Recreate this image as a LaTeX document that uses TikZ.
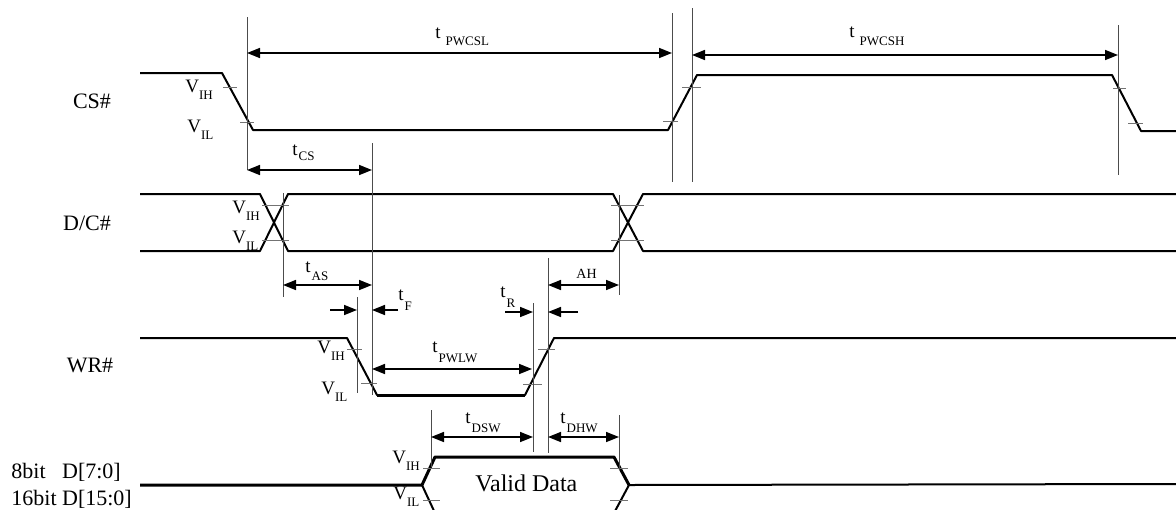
\documentclass[tikz,border=0pt]{standalone}
\usepackage{fontspec}
\setmainfont{Liberation Serif}
\usepackage{tikz}
\usetikzlibrary{arrows.meta}
\tikzstyle{wave} = [draw, line width=1pt, line join=round]
\tikzstyle{bus} = [draw, line width=1.5pt, line join=round]
\tikzstyle{guide} = [draw, line width=0.5pt, color=black!70]
\tikzstyle{tick} = [draw, line width=0.5pt, color=black!55]
\tikzstyle{dim} = [draw, line width=0.8pt,
    {Triangle[length=6.5pt,width=5pt]}-{Triangle[length=6.5pt,width=5pt]}]
\tikzstyle{half} = [draw, line width=0.8pt, -{Triangle[length=6.5pt,width=5pt]}]
\tikzstyle{sig} = [inner sep=0pt, font=\fontsize{11}{13}\selectfont]
\tikzstyle{lab} = [inner sep=0pt, anchor=base west, font=\fontsize{9.5}{10}\selectfont]
\newcommand{\vlev}[1]{V\raisebox{-3.8pt}{\fontsize{6.5}{7}\selectfont #1}}
\newcommand{\tlab}[2][4.5pt]{t\kern0.5pt\raisebox{-#1}{\fontsize{6.5}{7}\selectfont #2}}

\begin{document}
\begin{tikzpicture}[x=0.5pt, y=-0.5pt]
  \useasboundingbox (0,0) rectangle (1176,509);
  \clip (0,0) rectangle (1176,509);

    % Signal names
    \node [sig] (cs) at (92,101) {CS\#};
    \node [sig] (dc) at (87,223) {D/C\#};
    \node [sig] (wr) at (90,365) {WR\#};
    \node [sig, anchor=base west] (d8) at (11,478) {\rlap{8bit}\hphantom{16bit} D[7:0]};
    \node [sig, anchor=base west] (d16) at (11,505) {16bit D[15:0]};

    % Waveforms
    \draw [wave] (140,73) -- (222,73) -- (253,130) -- (668,130) -- (697,75)
        -- (1112,75) -- (1141,131) -- (1176,131);
    \draw [wave] (140,194) -- (260,194) -- (288,251) -- (613,251) -- (643,194) -- (1176,194);
    \draw [wave] (140,251) -- (260,251) -- (288,194) -- (613,194) -- (643,251) -- (1176,251);
    \draw [wave] (140,338) -- (347,338) -- (377,395) -- (525,395) -- (554,338) -- (1176,338);
    \draw [bus] (377,395) -- (525,395);
    \draw [bus] (140,485) -- (422,485) -- (435,457) -- (614,457) -- (629,485);
    \draw [wave] (422,485) -- (435,513);
    \draw [wave] (629,485) -- (614,513);
    \draw [wave] (629,485) -- (1176,484);
    \node [inner sep=0pt, anchor=base west, font=\fontsize{12}{14}\selectfont] (valid) at (475,491) {Valid Data};

    % Threshold ticks
    \draw [tick] (223,87) -- (237,87);   \draw [tick] (240,122) -- (254,122);
    \draw [tick] (663,121) -- (678,121); \draw [tick] (682,87) -- (701,87);
    \draw [tick] (1113,88) -- (1126,88); \draw [tick] (1128,123) -- (1143,123);
    \draw [tick] (262,205) -- (289,205); \draw [tick] (262,240) -- (289,240);
    \draw [tick] (611,205) -- (644,205); \draw [tick] (611,240) -- (644,240);
    \draw [tick] (347,349) -- (362,349); \draw [tick] (361,383) -- (377,383);
    \draw [tick] (523,384) -- (542,384); \draw [tick] (538,349) -- (555,349);
    \draw [tick] (423,468) -- (440,468); \draw [tick] (423,500) -- (440,500);
    \draw [tick] (610,468) -- (628,468); \draw [tick] (610,500) -- (628,500);

    % Level labels
    \node [lab] (csh) at (185,92) {\vlev{IH}};
    \node [lab] (csl) at (187,132) {\vlev{IL}};
    \node [lab] (dch) at (232,213) {\vlev{IH}};
    \node [lab] (dcl) at (232,243) {\vlev{IL}};
    \node [lab] (wrh) at (317,353) {\vlev{IH}};
    \node [lab] (wrl) at (321,394) {\vlev{IL}};
    \node [lab] (dah) at (392,463) {\vlev{IH}};
    \node [lab] (dal) at (393,499) {\vlev{IL}};

    % Guide lines
    \draw [guide] (247,17) -- (247,170);
    \draw [guide] (672,13) -- (672,182);
    \draw [guide] (692,8) -- (692,182);
    \draw [guide] (1118,25) -- (1118,175);
    \draw [guide] (372,143) -- (372,395);
    \draw [guide] (283,193) -- (283,297);
    \draw [guide] (619,195) -- (619,295);
    \draw [guide] (357,297) -- (357,393);
    \draw [guide] (548,258) -- (548,453);
    \draw [guide] (533,303) -- (533,452);
    \draw [guide] (431,410) -- (431,467);
    \draw [guide] (619,415) -- (619,470);

    % Timing arrows
    \draw [dim] (247,53) -- (672,53);
    \draw [dim] (692,55) -- (1118,55);
    \draw [dim] (247,170) -- (372,170);
    \draw [dim] (283,285) -- (372,285);
    \draw [dim] (548,285) -- (619,285);
    \draw [half] (330,310) -- (357,310);
    \draw [half] (398,310) -- (372,310);
    \draw [half] (505,312) -- (533,312);
    \draw [half] (578,312) -- (548,312);
    \draw [dim] (372,369) -- (532,369);
    \draw [dim] (431,437) -- (533,437);
    \draw [dim] (548,437) -- (619,437);

    % Timing labels
    \node [lab] (pwcsl) at (435,38) {\tlab[3.5pt]{\kern2pt PWCSL}};
    \node [lab] (pwcsh) at (849,37) {\tlab[4pt]{\kern2pt PWCSH}};
    \node [lab] (tcs) at (292,155) {\tlab[2.5pt]{CS}};
    \node [lab] (tas) at (305,272) {\tlab[4pt]{AS}};
    \node [lab] (tf) at (398,300) {\tlab[5pt]{F}};
    \node [lab] (tr) at (500,297) {\tlab[5pt]{R}};
    \node [lab] (pwlw) at (432,352) {\tlab[5pt]{PWLW}};
    \node [lab] (dsw) at (465,423) {\tlab[4.5pt]{DSW}};
    \node [lab] (dhw) at (560,423) {\tlab[4.5pt]{DHW}};
    \node [inner sep=0pt, anchor=base west, font=\fontsize{7}{8}\selectfont] (ah) at (576,278) {AH};

\end{tikzpicture}
\end{document}
